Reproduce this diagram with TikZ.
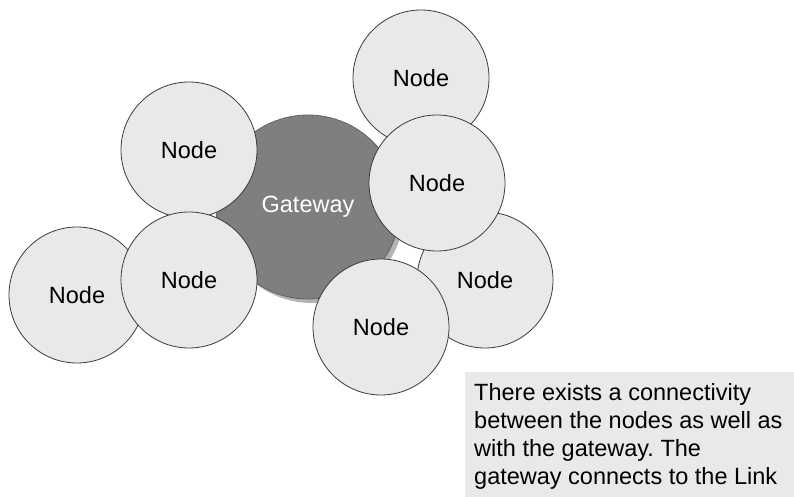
\documentclass[tikz,border=0pt]{standalone}
\usepackage{fontspec}
\setmainfont{Liberation Sans}
\frenchspacing
\definecolor{nodefill}{HTML}{E9E9E9}
\definecolor{nodeedge}{HTML}{3A3A3A}
\definecolor{gatefill}{HTML}{7F7F7F}
\definecolor{gateshade}{HTML}{B4B4B4}
\begin{document}
\begin{tikzpicture}[x=1pt,y=-1pt,
  meshnode/.style={circle, draw=nodeedge, line width=0.8pt, fill=nodefill,
    minimum size=136pt, inner sep=0pt, font=\fontsize{23.5}{28}\selectfont},
  gate/.style={circle, draw=nodeedge!80, line width=0.8pt, fill=gatefill,
    minimum size=184pt, inner sep=0pt, text=white, font=\fontsize{23.5}{28}\selectfont},
  gateshadow/.style={circle, fill=gateshade, minimum size=184pt, inner sep=0pt},
  notebox/.style={fill=nodefill, anchor=north west, minimum width=329pt,
    minimum height=125pt, inner sep=0pt},
  notetext/.style={anchor=north west, align=left, inner sep=0pt,
    font=\fontsize{23.5}{28}\selectfont}]
\useasboundingbox (0,0) rectangle (794,497);

% gateway with its soft drop shadow
\node[gateshadow] (gwshadow) at (312,211) {};
\node[gate] (gw) at (308,207) {\raisebox{-2pt}{Gateway}};

% surrounding mesh nodes, back to front
\node[meshnode] (ntop)   at (421,78)  {Node};
\node[meshnode] (nul)    at (189,150) {\raisebox{-2pt}{Node}};
\node[meshnode] (nleft)  at (77,295)  {Node};
\node[meshnode] (nlm)    at (189,280) {Node};
\node[meshnode] (nfr)    at (485,280) {Node};
\node[meshnode] (nrm)    at (437,183) {Node};
\node[meshnode] (nbot)   at (381,327) {Node};

% explanatory note
\node[notebox] (note) at (465,372) {};
\node[notetext] (notetxt) at (474,383) {There exists a connectivity\\between the nodes as well as\\with the gateway. The\\gateway connects to the Link};
\end{tikzpicture}
\end{document}
